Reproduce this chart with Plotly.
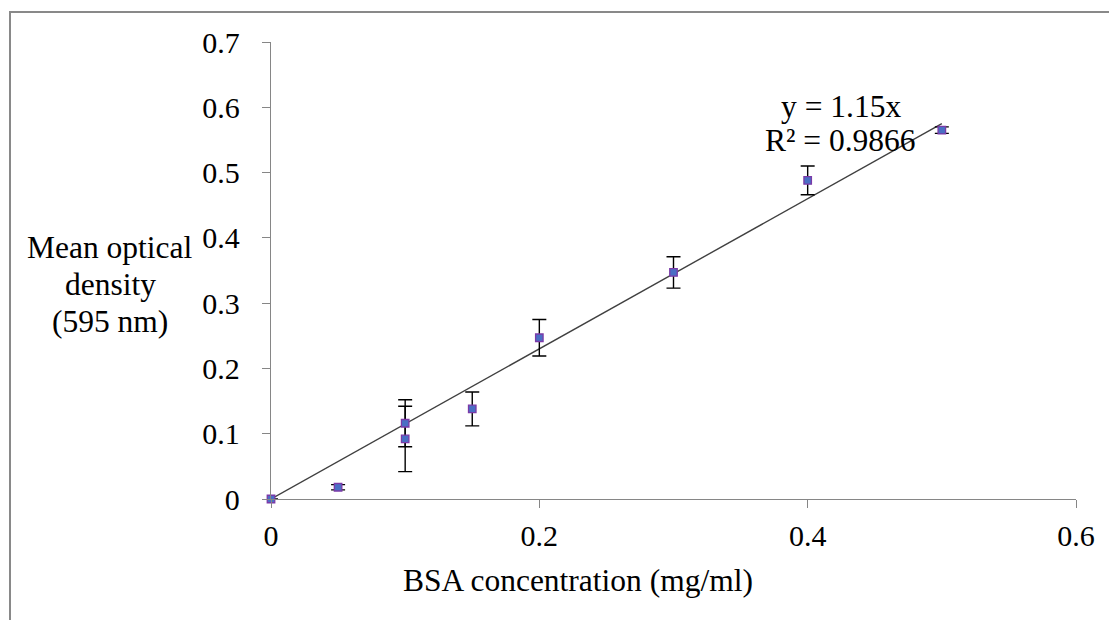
import plotly.graph_objects as go

# Data
bsa_conc = [0, 0.05, 0.1, 0.1, 0.15, 0.2, 0.3, 0.4, 0.5]
mean_od = [0, 0.018, 0.116, 0.092, 0.138, 0.247, 0.347, 0.488, 0.565]
od_err = [0, 0.004, 0.036, 0.050, 0.026, 0.028, 0.024, 0.022, 0.005]
slope = 1.15
r_squared = 0.9866
trend_x = [0, 0.5]
trend_y = [slope * v for v in trend_x]
x_ticks = [0, 0.2, 0.4, 0.6]
x_tick_text = ["0", "0.2", "0.4", "0.6"]
y_ticks = [0, 0.1, 0.2, 0.3, 0.4, 0.5, 0.6, 0.7]
y_tick_text = ["0", "0.1", "0.2", "0.3", "0.4", "0.5", "0.6", "0.7"]
y_title_lines = ["Mean optical", "density", "(595 nm)"]

FONT = "Liberation Serif, Times New Roman, serif"
W, H = 1109, 620
L, R, T, B = 271, 33, 42, 121
PW, PH = W - L - R, H - T - B


def px(xp):
    return (xp - L) / PW


def py(yp):
    return (H - B - yp) / PH


fig = go.Figure()
fig.add_trace(go.Scatter(
    x=trend_x, y=trend_y, mode="lines",
    line=dict(color="#404040", width=1.4), hoverinfo="skip", showlegend=False,
))
fig.add_trace(go.Scatter(
    x=bsa_conc, y=mean_od, mode="markers", cliponaxis=False,
    marker=dict(symbol="square", size=7.5, color="#4A6FC4",
                line=dict(color="#7B3AA8", width=1.3)),
    error_y=dict(type="data", array=od_err, visible=True, color="black",
                 thickness=1.4, width=7),
    showlegend=False,
))

axis_common = dict(
    showgrid=False, zeroline=False, showline=True, linecolor="#868686",
    linewidth=1.3, ticks="outside", ticklen=8, tickcolor="#868686", tickwidth=1.3,
    tickfont=dict(family=FONT, size=30, color="black"),
)
fig.update_xaxes(range=[0, 0.6], tickvals=x_ticks, ticktext=x_tick_text,
                 ticklabelstandoff=2, **axis_common)
fig.update_yaxes(range=[0, 0.7], tickvals=y_ticks, ticktext=y_tick_text,
                 ticklabelstandoff=16, **axis_common)

TS = 31.5
annotations = [
    dict(text="y = 1.15x", x=px(841), y=py(106), xref="paper", yref="paper",
         showarrow=False, xanchor="center", yanchor="middle",
         font=dict(family=FONT, size=TS, color="black")),
    dict(text=f"R² = {r_squared}", x=px(840), y=py(141), xref="paper", yref="paper",
         showarrow=False, xanchor="center", yanchor="middle",
         font=dict(family=FONT, size=TS, color="black")),
    dict(text="BSA concentration (mg/ml)", x=px(578), y=py(580), xref="paper", yref="paper",
         showarrow=False, xanchor="center", yanchor="middle",
         font=dict(family=FONT, size=TS, color="black")),
]
for txt, yc in zip(y_title_lines, [247, 284, 321]):
    annotations.append(dict(text=txt, x=px(110), y=py(yc), xref="paper", yref="paper",
                            showarrow=False, xanchor="center", yanchor="middle",
                            font=dict(family=FONT, size=TS, color="black")))

fig.update_layout(
    width=W, height=H,
    margin=dict(l=L, r=R, t=T, b=B),
    plot_bgcolor="white", paper_bgcolor="white",
    annotations=annotations,
    shapes=[dict(type="rect", xref="paper", yref="paper",
                 x0=px(10), x1=px(W + 10), y0=py(H + 10), y1=py(12),
                 line=dict(color="#898989", width=2), fillcolor="rgba(0,0,0,0)",
                 layer="below")],
)

fig.write_html("out.html")
